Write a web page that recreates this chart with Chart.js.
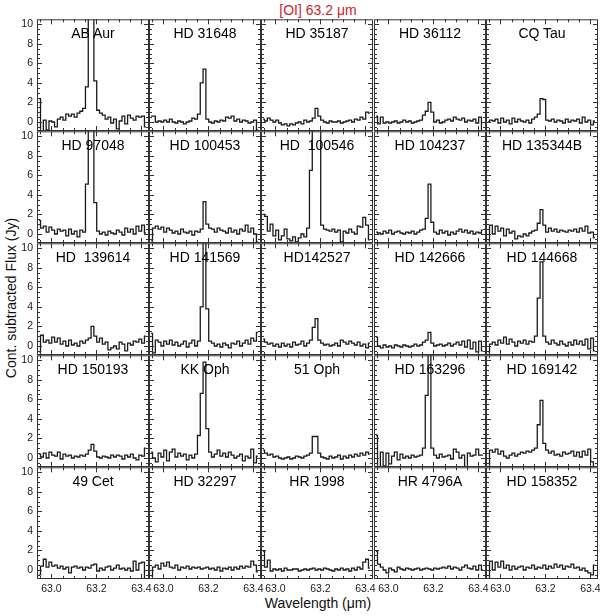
<!DOCTYPE html>
<html>
<head>
<meta charset="utf-8">
<script src="https://cdn.jsdelivr.net/npm/chart.js@4"></script>
<style>
  body { margin: 0; background: #fff; width: 600px; height: 616px; position: relative; overflow: hidden;
         font-family: 'Liberation Sans', Arial, sans-serif; }
  .cell { position: absolute; width: 162px; height: 152px; }
  .name { position: absolute; width: 112px; text-align: center; font-size: 14px; line-height: 16px;
          white-space: pre; color: #000; z-index: 5; }
  #title { position: absolute; left: 218px; top: 2px; width: 200px; text-align: center; font-size: 14px; color: #c8262a; }
  #xlabel { position: absolute; left: 218px; top: 595px; width: 200px; text-align: center; font-size: 14px; color: #111; }
  #ylabel { position: absolute; left: -139px; top: 290px; width: 300px; text-align: center; font-size: 14px;
            line-height: 16px; color: #111; transform: rotate(-90deg); }
</style>
</head>
<body>
<div id="title">[OI] 63.2 μm</div>
<div id="ylabel">Cont. subtracted Flux (Jy)</div>
<div id="xlabel">Wavelength (μm)</div>
<script>
// bin centres (micron)
const wavelength = [62.945, 62.9575, 62.970, 62.9825, 62.995, 63.0075, 63.020, 63.0325, 63.045, 63.0575,
  63.070, 63.0825, 63.095, 63.1075, 63.120, 63.1325, 63.145, 63.1575, 63.170, 63.1825,
  63.195, 63.2075, 63.220, 63.2325, 63.245, 63.2575, 63.270, 63.2825, 63.295, 63.3075,
  63.320, 63.3325, 63.345, 63.3575, 63.370, 63.3825, 63.395, 63.4075, 63.420];

const xTicks = [63.0, 63.2, 63.4];
const yTicks = [0, 2, 4, 6, 8, 10];

const objects = ['AB Aur', 'HD 31648', 'HD 35187', 'HD 36112', 'CQ Tau',
  'HD 97048', 'HD 100453', 'HD  100546', 'HD 104237', 'HD 135344B',
  'HD  139614', 'HD 141569', 'HD142527', 'HD 142666', 'HD 144668',
  'HD 150193', 'KK Oph', '51 Oph', 'HD 163296', 'HD 169142',
  '49 Cet', 'HD 32297', 'HR 1998', 'HR 4796A', 'HD 158352'];

// row 1
const abAur = [2.4, -0.9, 0.2, -0.8, 0.1, 0.0, -0.5, 0.3, 0.5, 0.2, 0.8, 0.6, 0.8, 0.5, 0.9, 1.1, 1.4, 3.6, 14, 14,
  4.2, 1.2, 0.9, 0.7, 0.3, 0.5, -0.1, 0.3, -0.7, 0.1, 0.6, -0.2, 0.7, 0.4, 0.2, 0.6, 0.5, 0.6, -0.5];
const hd31648 = [0.6, 0.6, 0.0, 0.1, 0.0, 0.2, 0.0, 0.3, 0.0, -0.1, 0.1, 0.0, -0.2, 0.0, 0.1, 0.4, 0.3, 0.8, 4.0, 5.4,
  0.3, 0.0, -0.1, 0.1, 0.0, 0.2, 0.1, 0.5, 0.4, 0.6, 0.1, 0.3, 0.0, 0.2, 0.1, -0.1, 0.0, 0.2, -0.8];
const hd35187 = [0.3, 0.1, 0.4, 0.2, 0.0, 0.2, -0.1, -0.3, -0.2, -0.4, -0.2, -0.3, -0.1, 0.0, -0.2, 0.2, 0.0, 0.1, 0.4, 1.4,
  0.6, 0.2, 0.0, -0.1, 0.1, 0.0, 0.0, 0.1, -0.1, 0.0, 0.1, 0.2, 0.0, 0.3, 0.2, 0.5, 0.3, 1.0, 0.9];
const hd36112 = [0.6, -0.2, 0.5, -0.1, 0.0, -0.1, 0.0, 0.1, -0.1, 0.0, 0.2, 0.0, 0.1, -0.1, 0.0, 0.1, 0.2, 0.7, 1.1, 2.0,
  1.0, 0.0, 0.2, -0.1, 0.0, 0.2, 0.3, 0.1, 0.5, 0.3, 0.2, 0.4, 0.0, 0.2, 0.1, 0.3, -0.1, 0.5, -0.9];
const cqTau = [0.0, 0.2, 0.1, 0.3, -0.1, 0.4, 0.0, 0.2, -0.2, 0.4, 0.0, 0.3, 0.1, 0.0, 0.2, -0.1, 0.3, 0.5, 0.8, 2.4,
  2.3, 0.2, 0.1, 0.3, 0.0, 0.2, 0.1, -0.1, 0.3, 0.0, 0.2, 0.1, 0.3, -0.1, 0.5, 0.0, 0.2, -0.3, 0.1];
// row 2
const hd97048 = [1.4, 0.6, 0.8, 0.2, 0.7, 0.4, 0.0, 0.5, 0.3, 0.4, -0.2, 0.5, 0.0, 0.3, -0.3, 0.4, 0.2, 5.1, 14, 14,
  3.2, 0.3, 0.0, 0.2, -0.1, 0.3, 0.1, 0.0, 0.4, 0.2, -0.1, 0.6, 0.2, 0.5, 0.0, 0.8, 0.3, 0.9, 0.1];
const hd100453 = [-0.7, 0.6, 0.8, 0.5, 0.7, 0.2, 0.6, 0.4, 0.1, 0.3, 0.0, 0.5, 0.2, 0.1, 0.3, -0.1, 0.3, 0.2, 0.5, 3.3,
  1.0, 0.6, 0.5, 0.2, 0.6, 0.4, 0.3, 0.1, 0.6, 0.2, 0.4, 0.0, 0.5, 0.3, 0.9, 0.2, 0.6, 0.0, -0.8];
const hd100546 = [2.0, 1.8, 0.3, 1.0, -0.2, 0.4, -0.6, -0.2, 0.5, -0.5, -0.7, -0.3, -0.8, -0.4, 0.0, -0.3, 0.6, 6.5, 14, 14,
  14, 0.9, 0.5, 0.4, 0.3, 0.5, 0.2, 0.4, -0.8, 0.3, 0.1, 0.5, 0.2, 0.0, 0.8, 0.7, 1.7, 0.9, -0.6];
const hd104237 = [0.2, 0.1, 0.0, 0.3, 0.1, 0.4, 0.0, 0.2, 0.3, 0.1, 0.0, 0.2, 0.1, 0.3, 0.0, 0.2, 0.4, 0.5, 1.6, 5.1,
  1.2, 0.2, 0.0, 0.4, 0.1, 0.3, -0.1, 0.2, 0.0, 0.3, 0.5, 0.2, 0.4, 0.1, 0.3, 0.0, 0.2, 0.1, 0.4];
const hd135344b = [-0.6, 0.9, 0.0, 0.8, 0.3, 0.6, -0.2, 0.5, 0.1, 0.3, -0.5, -0.2, -0.3, 0.0, -0.2, 0.1, 0.3, 0.4, 1.1, 2.5,
  0.9, 0.2, 0.6, 0.3, 0.5, 0.2, 0.4, 0.3, 0.2, 0.4, 0.3, 0.5, 0.2, 0.6, 0.3, 0.8, 0.1, 0.2, -0.4];
// row 3
const hd139614 = [-0.6, 1.1, 0.4, 0.6, 0.3, 0.9, 0.4, 0.8, 0.2, 0.5, 0.0, 0.6, 0.1, 0.3, 0.0, 0.5, 0.3, 0.6, 0.8, 2.0,
  1.0, 0.4, 0.8, 0.2, 0.4, -0.4, -0.2, 0.0, -0.3, 0.4, 0.2, -0.5, 0.3, 0.1, 0.5, 0.4, 0.7, 0.3, 1.0];
const hd141569 = [1.3, -0.7, 0.6, 0.4, 0.0, 0.5, 0.2, 0.6, 0.1, 0.4, 0.0, 0.2, 0.5, -0.1, 0.3, 0.6, 0.0, 0.5, 4.0, 11,
  3.8, 0.5, 0.3, 0.0, 0.2, -0.1, 0.3, 0.1, -0.2, 0.3, 0.2, 0.5, 0.0, 0.3, 0.6, 0.2, 0.8, 0.5, 1.4];
const hd142527 = [0.7, 0.4, 0.2, 0.3, 0.0, 0.2, -0.1, 0.3, 0.0, 0.2, -0.1, 0.4, 0.1, 0.2, 0.5, 0.0, 0.3, 0.6, 1.9, 2.8,
  0.6, 0.3, 0.1, 0.2, 0.0, 0.1, 0.3, 0.0, 0.6, 0.4, 0.2, 0.5, 0.3, 0.1, 0.4, 0.0, 0.2, -0.2, 0.3];
const hd142666 = [0.9, 0.0, -0.2, 0.1, -0.1, 0.0, -0.2, 0.1, 0.0, -0.1, 0.1, 0.0, -0.1, 0.0, 0.2, 0.0, 0.1, 0.4, 0.6, 1.4,
  0.3, 0.0, 0.1, 0.2, 0.0, 0.1, 0.3, 0.0, 0.2, 0.4, 0.1, 0.5, -0.1, 0.6, -0.3, 0.4, -0.6, 0.5, -0.5];
const hd144668 = [-0.6, 0.2, 0.4, 0.1, 0.6, 0.3, 0.9, 0.2, 0.7, 0.4, 0.0, 0.5, 0.3, 0.6, 0.2, 0.5, 0.4, 1.0, 4.9, 8.6,
  1.0, 0.4, 0.2, 0.6, 0.3, 0.1, 0.5, 0.2, 0.0, 0.4, 0.1, 0.6, 0.2, 0.5, 0.1, 0.7, -0.3, 0.8, -0.5];
// row 4
const hd150193 = [0.4, 0.1, 0.5, 0.0, 0.6, 0.3, 0.2, 0.6, -0.1, 0.4, 0.2, 0.3, 0.0, 0.2, 0.1, 0.3, 0.2, 0.4, 0.8, 1.4,
  0.7, 0.1, 0.0, 0.2, 0.1, 0.0, 0.3, 0.1, 0.3, 0.2, -0.1, 0.3, 0.1, 0.4, 0.0, -0.2, 0.3, 0.2, 1.0];
const kkOph = [0.6, 0.0, -0.4, 0.5, 0.1, 0.8, -0.3, 0.6, 0.9, 0.1, 0.5, 0.2, 0.4, -0.2, 0.3, 0.0, 0.4, 2.3, 6.6, 9.8,
  3.0, 0.6, 0.1, 0.4, 0.8, 0.2, 0.5, 0.1, 0.6, 0.3, 0.0, 0.2, 0.4, -0.3, 0.2, 0.0, 0.9, -0.5, 0.2];
const oph51 = [0.8, 0.5, 0.3, 0.4, 0.1, 0.2, 0.0, -0.1, 0.0, 0.1, -0.1, 0.0, 0.2, 0.1, 0.0, 0.2, 0.3, 0.5, 2.2, 2.2,
  0.5, 0.1, 0.0, -0.1, 0.2, 0.0, 0.1, 0.3, -0.1, 0.2, 0.0, 0.3, 0.1, 0.4, 0.2, 0.5, 0.3, 0.6, 0.4];
const hd163296 = [2.3, -1.0, 0.6, -0.8, 0.5, -0.6, 0.2, 0.6, -0.2, 0.4, 0.0, 0.2, 0.0, 0.3, 0.1, 0.2, 0.3, 1.0, 6.4, 13,
  1.0, 0.3, 0.0, 0.4, 0.1, 0.2, 0.3, -0.1, 0.9, 0.6, 0.0, 0.3, -0.9, 0.5, 0.2, 0.3, 0.9, 0.3, 0.3];
const hd169142 = [-1.0, 0.8, 0.6, 0.9, 0.4, 0.7, 0.2, 0.0, 0.3, 0.5, 0.2, 0.4, 0.6, 0.5, 0.7, 0.6, 0.8, 1.0, 3.4, 5.9,
  1.5, 0.8, 0.5, 0.7, 0.3, 0.4, 0.2, 0.6, 0.4, 0.5, 0.7, 0.2, 0.6, 0.1, 0.7, 0.3, 0.9, -0.4, -1.0];
// row 5
const cet49 = [-0.5, 0.4, 1.1, 0.3, 0.8, 0.4, 0.5, 0.2, 0.4, 0.1, 0.3, -0.3, 0.3, 0.4, 0.2, 0.3, 0.0, 0.3, 0.2, 0.5,
  0.6, -0.1, 0.2, 0.0, 0.3, 0.4, 0.0, 0.2, 0.5, 0.1, 0.2, 0.0, 0.2, -0.1, 0.9, 0.0, 0.7, 0.8, -1.0];
const hd32297 = [-0.6, 0.3, 0.5, 0.1, 0.7, 0.4, 0.8, 0.3, 0.2, 0.5, 0.0, 0.3, 0.2, 0.4, 0.1, 0.3, 0.2, 0.3, 0.1, 0.2,
  0.3, 0.1, 0.2, 0.0, 0.3, -0.1, 0.2, 0.1, 0.3, 0.0, 0.3, 0.1, 0.4, 0.2, 0.4, 0.3, 0.9, 0.5, -0.2];
const hr1998 = [1.9, 0.3, 1.0, -0.1, 0.1, 0.0, 0.1, -0.1, 0.2, 0.0, 0.0, 0.1, 0.1, -0.1, 0.0, 0.1, 0.0, 0.1, 0.2, 0.0,
  0.1, 0.0, 0.2, 0.1, 0.0, -0.1, 0.1, 0.0, 0.2, 0.0, 0.1, -0.1, 0.2, 0.0, 0.3, 0.1, 0.8, 1.1, 0.2];
const hr4796a = [1.9, 0.6, 0.3, 0.0, -0.3, 0.2, 0.0, -0.2, 0.3, 0.1, 0.0, 0.2, 0.1, 0.0, 0.1, 0.2, 0.0, 0.1, 0.2, 0.1,
  0.0, 0.2, 0.1, 0.2, 0.3, 0.2, 0.4, 0.1, 0.3, 0.2, 0.0, 0.3, 0.5, 0.2, 0.1, 0.4, 0.0, 0.5, 0.0];
const hd158352 = [-1.0, 0.9, 0.0, 0.8, 0.3, 0.9, 0.2, 0.5, 0.0, 0.4, 0.1, 0.3, 0.4, 0.0, 0.3, 0.2, 0.5, 0.1, 0.3, 0.2,
  0.5, 0.1, 0.4, 0.2, 0.6, 0.3, 0.5, 0.1, 0.4, 0.3, 0.6, 0.2, 0.3, 0.0, 0.2, -0.1, -0.3, -0.5, 0.5];

const fluxes = [abAur, hd31648, hd35187, hd36112, cqTau,
  hd97048, hd100453, hd100546, hd104237, hd135344b,
  hd139614, hd141569, hd142527, hd142666, hd144668,
  hd150193, kkOph, oph51, hd163296, hd169142,
  cet49, hd32297, hr1998, hr4796a, hd158352];

const panelLeft = [37, 149, 261, 374, 486];
const panelTop = [19, 131, 243, 355, 467];

// box with inward ticks on all four sides
const frame = {
  id: 'frame',
  afterDatasetsDraw(chart) {
    const { ctx, chartArea: a, scales: { x, y } } = chart;
    ctx.save();
    ctx.strokeStyle = '#333';
    ctx.lineWidth = 1;
    ctx.strokeRect(a.left + 0.5, a.top + 0.5, a.right - a.left - 1, a.bottom - a.top - 1);
    ctx.beginPath();
    for (let k = 0; k <= 9; k++) {
      const v = 62.95 + k * 0.05;
      const px = Math.round(x.getPixelForValue(v)) + 0.5;
      const len = (k % 4 === 1) ? 5 : 3;
      ctx.moveTo(px, a.bottom); ctx.lineTo(px, a.bottom - len);
      ctx.moveTo(px, a.top); ctx.lineTo(px, a.top + len);
    }
    for (let k = 0; k <= 21; k++) {
      const v = -0.5 + k * 0.5;
      const py = Math.round(y.getPixelForValue(v)) + 0.5;
      const len = (k % 4 === 1) ? 5 : 3;
      ctx.moveTo(a.left, py); ctx.lineTo(a.left + len, py);
      ctx.moveTo(a.right, py); ctx.lineTo(a.right - len, py);
    }
    ctx.stroke();
    ctx.restore();
  }
};

const tickFont = { family: "'Liberation Sans', Arial, sans-serif", size: 10.5 };

objects.forEach((name, i) => {
  const row = Math.floor(i / 5), col = i % 5;
  const L = panelLeft[col], T = panelTop[row];

  const cell = document.createElement('div');
  cell.className = 'cell';
  cell.style.left = (L - 40) + 'px';
  cell.style.top = (T - 10) + 'px';
  const cv = document.createElement('canvas');
  cell.appendChild(cv);
  document.body.appendChild(cell);

  const label = document.createElement('div');
  label.className = 'name';
  label.textContent = name;
  label.style.left = L + 'px';
  label.style.top = (T + 6) + 'px';
  document.body.appendChild(label);

  new Chart(cv, {
    type: 'line',
    data: {
      datasets: [{
        data: wavelength.map((w, j) => ({ x: w, y: fluxes[i][j] })),
        borderColor: '#1a1a1a',
        borderWidth: 1.3,
        stepped: 'middle',
        pointRadius: 0,
        fill: false
      }]
    },
    options: {
      responsive: true,
      maintainAspectRatio: false,
      animation: false,
      events: [],
      layout: { padding: { top: 10, right: 10, left: 0, bottom: 0 } },
      plugins: { legend: { display: false }, tooltip: { enabled: false } },
      scales: {
        x: {
          type: 'linear',
          min: 62.9356,
          max: 63.434,
          grid: { display: false, drawTicks: false },
          border: { display: false },
          afterBuildTicks: s => { s.ticks = xTicks.map(v => ({ value: v })); },
          afterFit: s => { s.height = 30; },
          ticks: {
            padding: 4,
            maxRotation: 0,
            autoSkip: false,
            font: tickFont,
            color: row === 4 ? '#1a1a1a' : 'rgba(0,0,0,0)',
            callback: v => Number(v).toFixed(1)
          }
        },
        y: {
          min: -0.92,
          max: 10.5,
          grid: { display: false, drawTicks: false },
          border: { display: false },
          afterBuildTicks: s => { s.ticks = yTicks.map(v => ({ value: v })); },
          afterFit: s => { s.width = 40; },
          ticks: {
            padding: 4,
            autoSkip: false,
            font: tickFont,
            color: col === 0 ? '#1a1a1a' : 'rgba(0,0,0,0)',
            callback: v => String(v)
          }
        }
      }
    },
    plugins: [frame]
  });
});
</script>
</body>
</html>
